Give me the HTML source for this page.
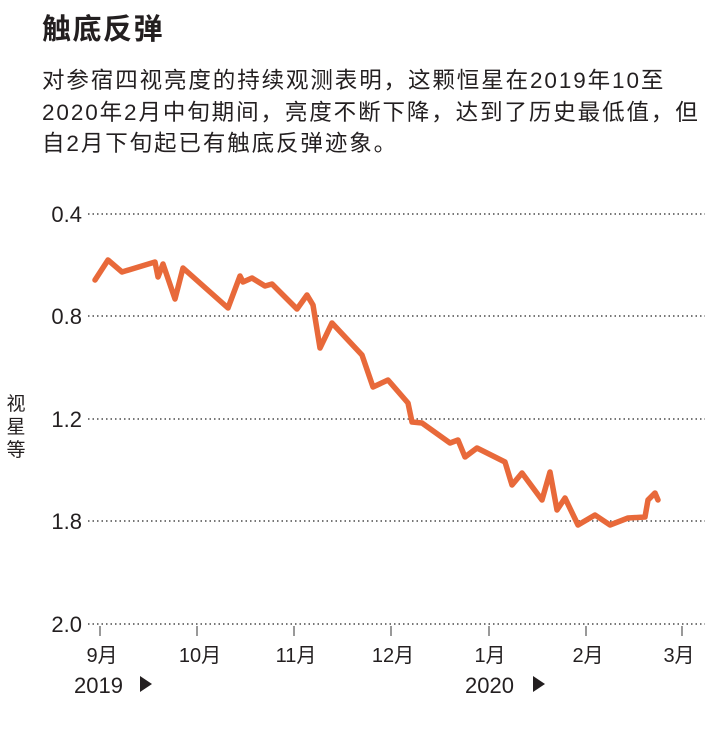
<!DOCTYPE html>
<html><head><meta charset="utf-8"><style>
body{margin:0;background:#fff;width:719px;height:747px;overflow:hidden;font-family:"Liberation Sans","Noto Sans CJK SC",sans-serif;color:#231f20}
.t{position:absolute;left:42px;top:6px;font-size:29px;font-weight:bold;letter-spacing:1.5px}
.p{position:absolute;left:42px;top:65px;width:700px;font-size:22.5px;line-height:31.5px;letter-spacing:1.9px;white-space:nowrap}
</style></head><body>
<div class="t">触底反弹</div>
<div class="p">对参宿四视亮度的持续观测表明，这颗恒星在2019年10至<br>2020年2月中旬期间，亮度不断下降，达到了历史最低值，但<br>自2月下旬起已有触底反弹迹象。</div>
<svg width="719" height="747" style="position:absolute;left:0;top:0" font-family="Liberation Sans, Noto Sans CJK SC, sans-serif">
<g stroke="#777" stroke-width="2" stroke-dasharray="1.5 3">
<line x1="88" y1="214" x2="705" y2="214"/><line x1="88" y1="316" x2="705" y2="316"/>
<line x1="88" y1="419" x2="705" y2="419"/><line x1="88" y1="521" x2="705" y2="521"/>
<line x1="88" y1="624" x2="705" y2="624"/></g>
<g stroke="#555" stroke-width="1.2">
<line x1="100" y1="626" x2="100" y2="636"/><line x1="197" y1="626" x2="197" y2="636"/>
<line x1="294" y1="626" x2="294" y2="636"/><line x1="391" y1="626" x2="391" y2="636"/>
<line x1="489" y1="626" x2="489" y2="636"/><line x1="586" y1="626" x2="586" y2="636"/>
<line x1="682" y1="626" x2="682" y2="636"/></g>
<g font-size="22" fill="#231f20" text-anchor="end">
<text x="82" y="222">0.4</text><text x="82" y="324">0.8</text><text x="82" y="427">1.2</text>
<text x="82" y="529">1.8</text><text x="82" y="632">2.0</text></g>
<g font-size="20" fill="#231f20" text-anchor="middle">
<text x="102" y="662">9月</text><text x="200" y="662">10月</text><text x="296" y="662">11月</text>
<text x="393" y="662">12月</text><text x="490" y="662">1月</text><text x="588" y="662">2月</text><text x="679" y="662">3月</text></g>
<g font-size="22" fill="#231f20">
<text x="74" y="693">2019</text><text x="465" y="693">2020</text></g>
<polygon points="140,676 140,692 152,684" fill="#231f20"/>
<polygon points="533,676 533,692 545,684" fill="#231f20"/>
<g font-size="19" fill="#231f20" text-anchor="middle">
<text x="16" y="410">视</text><text x="16" y="433">星</text><text x="16" y="456">等</text></g>
<polyline fill="none" stroke="#e8693a" stroke-width="5.5" stroke-linejoin="round" stroke-linecap="round"
points="95,280 108,260 122,272 155,262 158,277 163,264 175,299 183,268 228,308 240,276 243,282 252,278 265,286 272,284 297,309 307,295 313,305 320,348 332,323 362,355 373,387 388,380 408,403 412,422 422,423 450,443 458,440 465,457 477,448 505,462 512,485 522,473 542,500 550,472 557,510 565,498 578,525 595,515 610,525 628,518 645,517 648,500 655,493 658,500"/>
</svg>
</body></html>
